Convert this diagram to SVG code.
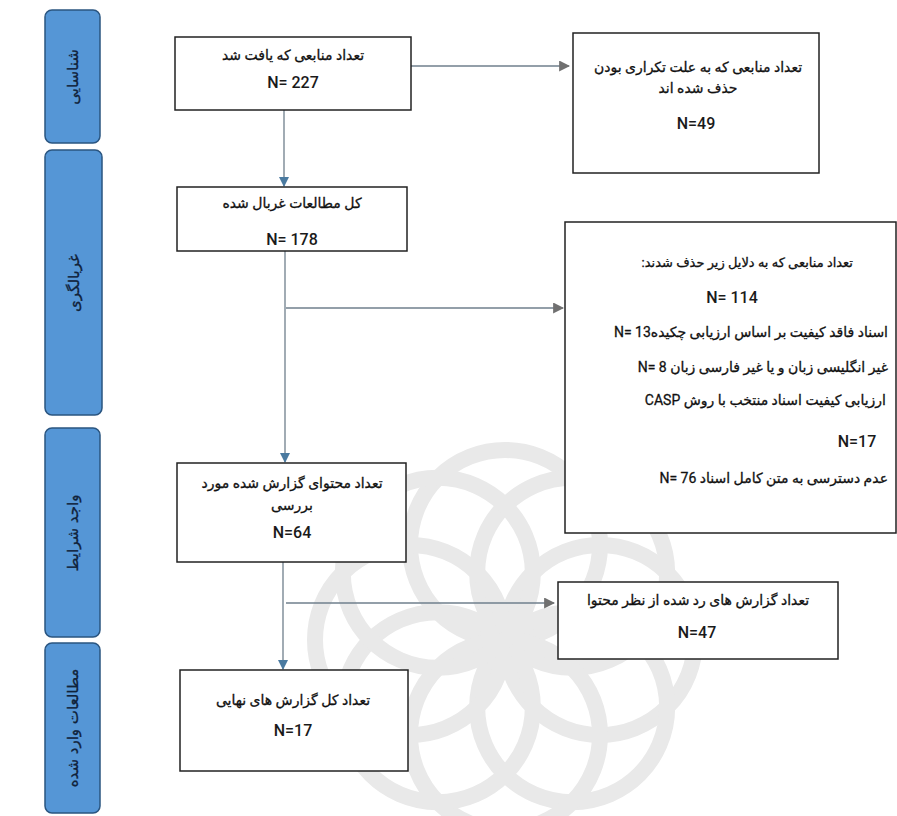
<svg xmlns="http://www.w3.org/2000/svg" width="897" height="816" viewBox="0 0 897 816">
<defs>
<style>
.side{fill:#5596d6;stroke:#2a5580;stroke-width:1.5}
.st{font-family:"DejaVu Sans",sans-serif;font-size:15px;fill:#10223a;stroke:#10223a;stroke-width:0.3;text-anchor:middle;direction:rtl}
.box{fill:#fff;stroke:#222;stroke-width:1.5}
.t{font-family:Roboto,"DejaVu Sans",sans-serif;font-size:14px;fill:#111;stroke:#111;stroke-width:0.3;direction:rtl}
.c{text-anchor:middle}
.r{text-anchor:start}
.n{font-family:Roboto,"DejaVu Sans",sans-serif;font-size:16px;font-weight:500;fill:#1a1a1a;text-anchor:middle}
.ln{stroke:#6f7f8c;stroke-width:1.3;fill:none}
.wm{fill:none;stroke:#e9e9e9;stroke-width:16}
</style>
<marker id="ab" viewBox="0 0 10 10" refX="9" refY="5" markerWidth="10" markerHeight="10" markerUnits="userSpaceOnUse" orient="auto"><path d="M0,0 L10,5 L0,10 z" fill="#4a7aa0"/></marker>
<marker id="ag" viewBox="0 0 10 10" refX="9" refY="5" markerWidth="11" markerHeight="11" markerUnits="userSpaceOnUse" orient="auto"><path d="M0,0 L10,5 L0,10 z" fill="#707070"/></marker>
</defs>
<rect width="897" height="816" fill="#fff"/>
<g id="watermark" transform="translate(505,640)">
<circle class="wm" cx="0" cy="-95" r="95"/>
<circle class="wm" cx="0" cy="-95" r="95" transform="rotate(45)"/>
<circle class="wm" cx="0" cy="-95" r="95" transform="rotate(90)"/>
<circle class="wm" cx="0" cy="-95" r="95" transform="rotate(135)"/>
<circle class="wm" cx="0" cy="-95" r="95" transform="rotate(180)"/>
<circle class="wm" cx="0" cy="-95" r="95" transform="rotate(225)"/>
<circle class="wm" cx="0" cy="-95" r="95" transform="rotate(270)"/>
<circle class="wm" cx="0" cy="-95" r="95" transform="rotate(315)"/>
</g>
<g id="stage1"><rect class="side" x="45" y="10" width="55" height="133" rx="7"/><text class="st" transform="translate(78,77) rotate(-90)">شناسایی</text></g>
<g id="stage2"><rect class="side" x="45" y="150" width="57" height="265" rx="7"/><text class="st" transform="translate(79,283) rotate(-90)">غربالگری</text></g>
<g id="stage3"><rect class="side" x="45" y="428" width="55" height="209" rx="7"/><text class="st" transform="translate(78,533) rotate(-90)">واجد شرایط</text></g>
<g id="stage4"><rect class="side" x="45" y="643" width="55" height="170" rx="7"/><text class="st" transform="translate(78,728) rotate(-90)">مطالعات وارد شده</text></g>
<g id="connectors">
<path class="ln" d="M284,110 V186" marker-end="url(#ab)"/>
<path class="ln" d="M411,66 H569" marker-end="url(#ag)"/>
<path class="ln" d="M285,251 V462" marker-end="url(#ab)"/>
<path class="ln" d="M286,308 H563" marker-end="url(#ag)"/>
<path class="ln" d="M283,562 V669" marker-end="url(#ab)"/>
<path class="ln" d="M286,603 H554" marker-end="url(#ag)"/>
</g>
<g id="found"><rect class="box" x="175" y="37" width="236" height="73"/><text class="t c" x="293" y="60">تعداد منابعی که یافت شد</text><text class="n" x="293" y="88">N= 227</text></g>
<g id="duplicates"><rect class="box" x="573" y="33" width="246" height="140"/><text class="t c" x="698" y="72">تعداد منابعی که به علت تکراری بودن</text><text class="t c" x="698" y="93">حذف شده اند</text><text class="n" x="696" y="129">N=49</text></g>
<g id="screened"><rect class="box" x="177" y="187" width="230" height="64"/><text class="t c" x="292" y="208">کل مطالعات غربال شده</text><text class="n" x="292" y="245">N= 178</text></g>
<g id="excluded"><rect class="box" x="565" y="222" width="331" height="311"/>
<text class="t r" x="853" y="267" style="font-size:13px">تعداد منابعی که به دلایل زیر حذف شدند:</text>
<text class="n" x="732" y="303">N= 114</text>
<text class="t r" x="888" y="337">اسناد فاقد کیفیت بر اساس ارزیابی چکیده13 =N</text>
<text class="t r" x="888" y="372">غیر انگلیسی زبان و یا غیر فارسی زبان  8 =N</text>
<text class="t r" x="886" y="405">ارزیابی کیفیت اسناد منتخب با روش CASP</text>
<text class="n" x="857" y="447">N=17</text>
<text class="t r" x="888" y="483">عدم دسترسی به متن کامل اسناد 76 =N</text>
</g>
<g id="assessed"><rect class="box" x="177" y="463" width="229" height="99"/><text class="t c" x="292" y="488">تعداد محتوای گزارش شده مورد</text><text class="t c" x="292" y="510">بررسی</text><text class="n" x="292" y="538">N=64</text></g>
<g id="rejected"><rect class="box" x="558" y="582" width="280" height="77"/><text class="t c" x="698" y="605">تعداد گزارش های رد شده از نظر محتوا</text><text class="n" x="697" y="638">N=47</text></g>
<g id="final"><rect class="box" x="180" y="670" width="228" height="101"/><text class="t c" x="293" y="705">تعداد کل گزارش های نهایی</text><text class="n" x="293" y="736">N=17</text></g>
</svg>
